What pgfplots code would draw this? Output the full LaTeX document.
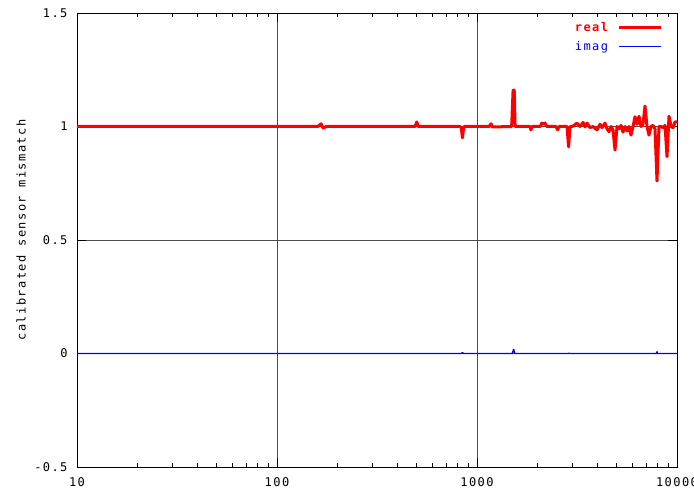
\documentclass[border=0pt]{standalone}
\usepackage{fontspec}
\setmainfont{DejaVu Sans Mono}[LetterSpace=12]
\usepackage{pgfplots}
\pgfplotsset{compat=1.18}

\pgfplotstableread{
f y
10 1.0
160 1.0
166 1.012
170 0.993
176 1.0
490 1.0
500 1.02
508 1.0
820 1.0
835 0.995
845 0.95
858 0.998
870 1.0
1150 1.0
1175 1.012
1195 0.998
1490 1.0
1515 1.16
1535 1.16
1550 1.0
1840 1.0
1860 0.985
1885 1.0
2070 1.0
2110 1.015
2150 1.01
2190 1.015
2230 1.0
2480 1.0
2530 0.985
2570 1.0
2820 1.0
2870 0.91
2920 1.0
3000 1.0
3160 1.015
3270 1.0
3390 1.018
3470 0.998
3550 1.015
3670 0.995
3800 1.0
3980 0.985
4120 1.01
4217 0.995
4365 1.015
4467 0.99
4571 0.977
4677 1.0
4786 0.985
4898 0.896
5012 1.0
5129 0.99
5248 1.005
5370 0.975
5495 1.0
5623 0.98
5754 1.0
5888 0.962
6026 1.0
6166 1.043
6310 1.01
6457 1.045
6607 1.0
6761 1.01
6918 1.09
7079 1.0
7244 0.962
7413 1.0
7586 1.005
7762 0.99
7943 0.76
8128 1.0
8318 1.0
8511 0.995
8710 1.005
8913 0.867
9120 1.045
9333 1.0
9550 0.995
9772 1.02
10000 1.02
}\realdata

\pgfplotstableread{
f y
10 0
830 0
845 0.003
860 0
1500 0
1525 0.018
1545 0
2870 0
2884 0.002
2900 0
7900 0
7943 0.008
7990 0
10000 0
}\imagdata

\begin{document}
\begin{tikzpicture}
\begin{semilogxaxis}[
    scale only axis,
    width=600bp, height=454bp,
    xmin=10, xmax=10000,
    ymin=-0.5, ymax=1.5,
    xtick={10,100,1000,10000},
    xticklabels={10,100,1000,10000},
    ytick={-0.5,0,0.5,1,1.5},
    yticklabels={-0.5,0,0.5,1,1.5},
    grid=major,
    major grid style={black!70, line width=0.7bp},
    axis line style={black, line width=0.8bp},
    major tick length=9bp,
    minor tick length=4.5bp,
    tick style={black, line width=0.7bp},
    font=\fontsize{12bp}{14bp}\selectfont,
    xticklabel style={yshift=-7bp},
    yticklabel style={xshift=-6bp},
    ylabel={calibrated sensor mismatch},
    every axis y label/.style={at={(axis description cs:-0.0933,0.522)}, rotate=90, anchor=center},
    legend plot pos=right,
    legend cell align=right,
    legend image code/.code={\draw[#1] (0bp,0bp) -- (42bp,0bp);},
    legend style={at={(axis description cs:0.9755,0.984)}, anchor=north east,
        draw=none, fill=none, row sep=4bp, inner sep=0bp,
        font=\fontsize{12bp}{14bp}\selectfont},
]
\addplot[red, line width=3bp, line join=round] table[x=f, y=y] {\realdata};
\addlegendentry{\textcolor{red}{\bfseries real}\rule{7bp}{0bp}}
\addplot[blue, line width=1.4bp, line join=round] table[x=f, y=y] {\imagdata};
\addlegendentry{\textcolor{blue}{imag}\rule{7bp}{0bp}}
\coordinate (sw) at (rel axis cs:0,0);
\coordinate (ne) at (rel axis cs:1,1);
\end{semilogxaxis}
\pgfresetboundingbox
\path ([xshift=-77bp,yshift=-25bp]sw) rectangle ([xshift=17bp,yshift=13bp]ne);
\end{tikzpicture}
\end{document}
